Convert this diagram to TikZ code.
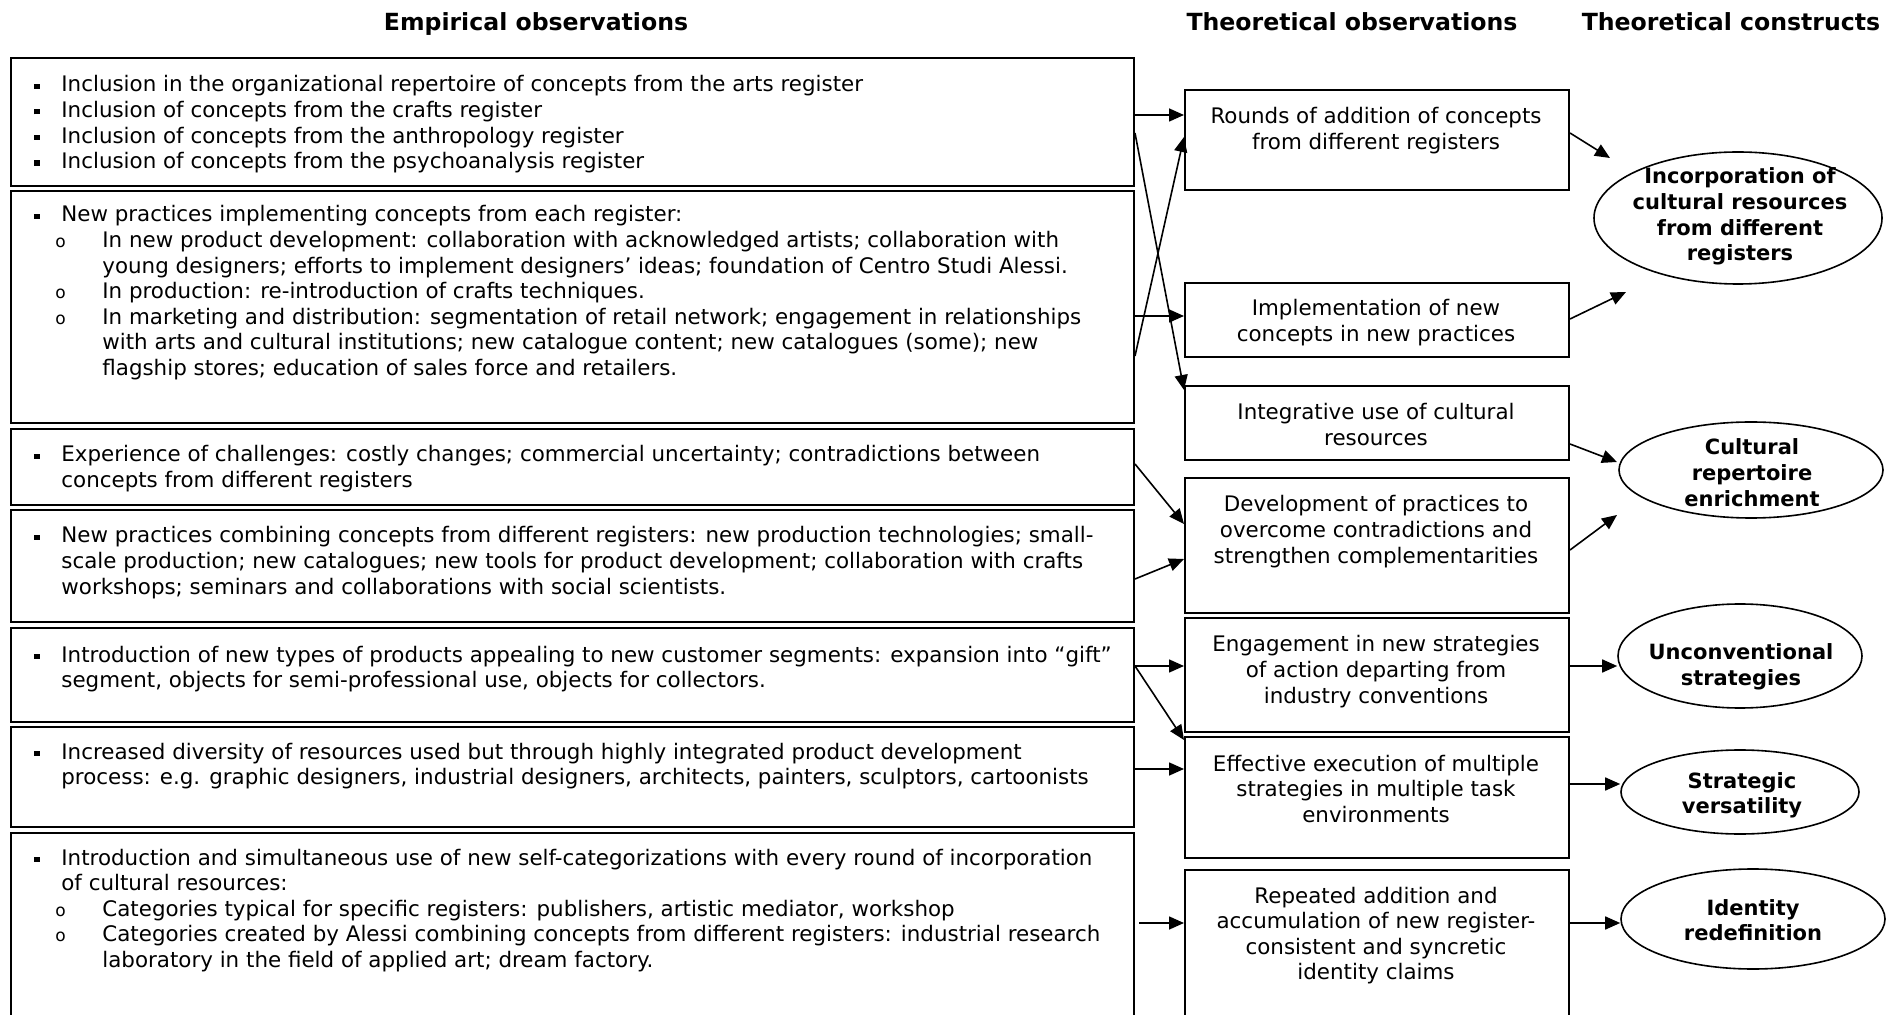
\documentclass[tikz,border=0pt]{standalone}
\usepackage{fontspec}
\setmainfont{DejaVu Sans}
\usetikzlibrary{arrows.meta,shapes.geometric,calc}

% text set-up for the boxes
\newcommand{\txtfont}{\fontsize{10.7pt}{12.8pt}\selectfont}
\newcommand{\boldtxt}{\fontsize{10.5pt}{12.8pt}\selectfont\bfseries}
\newcommand{\sqbul}{\hspace*{1.5pt}\rule[1.6pt]{2.6pt}{2.6pt}}
\newcommand{\ringbul}{{\fontsize{8.5pt}{8.5pt}\selectfont o}}
\newcommand{\itemA}[1]{\par\hangindent=15pt\hangafter=1\noindent\makebox[15pt][l]{\sqbul}#1}
\newcommand{\itemB}[1]{\par\hangindent=35.5pt\hangafter=1\noindent\hspace*{12pt}\makebox[23.5pt][l]{\ringbul}#1}

\tikzset{
  lbox/.style={draw, line width=1pt, rectangle, inner sep=0pt, minimum width=561.5pt, anchor=north west},
  mbox/.style={draw, line width=1pt, rectangle, inner sep=0pt, minimum width=192pt, anchor=north west},
  cons/.style={draw, ellipse, line width=0.8pt, inner sep=0pt},
  arr/.style={-{Triangle[length=7.5pt,width=6.5pt]}, line width=0.8pt},
  ltext/.style={anchor=base west, inner sep=0pt},
  mtext/.style={anchor=base, inner sep=0pt},
  head/.style={anchor=base, inner sep=0pt, font=\fontsize{11.8pt}{14pt}\selectfont\bfseries},
}

\begin{document}
\begin{tikzpicture}[x=0.5pt,y=-0.5pt]
\useasboundingbox (0,0) rectangle (1901,1015);
\clip (0,0) rectangle (1901,1015);
\fill[white] (0,0) rectangle (1901,1015);

% column headings
\node[head] (h1) at (536,31) {Empirical observations};
\node[head] (h2) at (1352,31) {Theoretical observations};
\node[head] (h3) at (1731,31) {Theoretical constructs};

% empirical observation boxes
\node[lbox, minimum height=64pt]  (b1) at (10,57)  {};
\node[lbox, minimum height=116pt] (b2) at (10,190) {};
\node[lbox, minimum height=38pt]  (b3) at (10,428) {};
\node[lbox, minimum height=56pt]  (b4) at (10,509) {};
\node[lbox, minimum height=47pt]  (b5) at (10,627) {};
\node[lbox, minimum height=50pt]  (b6) at (10,726) {};
\node[lbox, minimum height=99pt]  (b7) at (10,832) {};

\node[ltext] (t1) at (31,92) {\parbox[t]{580pt}{\txtfont
\itemA{Inclusion in the organizational repertoire of concepts from the arts register}
\itemA{Inclusion of concepts from the crafts register}
\itemA{Inclusion of concepts from the anthropology register}
\itemA{Inclusion of concepts from the psychoanalysis register}}};

\node[ltext] (t2) at (31,222) {\parbox[t]{580pt}{\txtfont
\itemA{New practices implementing concepts from each register:}
\itemB{In new product development: collaboration with acknowledged artists; collaboration with\\
young designers; efforts to implement designers’ ideas; foundation of Centro Studi Alessi.}
\itemB{In production: re-introduction of crafts techniques.}
\itemB{In marketing and distribution: segmentation of retail network; engagement in relationships\\
with arts and cultural institutions; new catalogue content; new catalogues (some); new\\
flagship stores; education of sales force and retailers.}}};

\node[ltext] (t3) at (31,462) {\parbox[t]{580pt}{\txtfont
\itemA{Experience of challenges: costly changes; commercial uncertainty; contradictions between\\
concepts from different registers}}};

\node[ltext] (t4) at (31,543) {\parbox[t]{580pt}{\txtfont
\itemA{New practices combining concepts from different registers: new production technologies; small-\\
scale production; new catalogues; new tools for product development; collaboration with crafts\\
workshops; seminars and collaborations with social scientists.}}};

\node[ltext] (t5) at (31,662) {\parbox[t]{580pt}{\txtfont
\itemA{Introduction of new types of products appealing to new customer segments: expansion into “gift”\\
segment, objects for semi-professional use, objects for collectors.}}};

\node[ltext] (t6) at (31,759) {\parbox[t]{580pt}{\txtfont
\itemA{Increased diversity of resources used but through highly integrated product development\\
process: e.g. graphic designers, industrial designers, architects, painters, sculptors, cartoonists}}};

\node[ltext] (t7) at (31,865) {\parbox[t]{580pt}{\txtfont
\itemA{Introduction and simultaneous use of new self-categorizations with every round of incorporation\\
of cultural resources:}
\itemB{Categories typical for specific registers: publishers, artistic mediator, workshop}
\itemB{Categories created by Alessi combining concepts from different registers: industrial research\\
laboratory in the field of applied art; dream factory.}}};

% theoretical observation boxes
\node[mbox, minimum height=50pt]   (m1) at (1184,89)  {};
\node[mbox, minimum height=37pt]   (m2) at (1184,282) {};
\node[mbox, minimum height=37pt]   (m3) at (1184,385) {};
\node[mbox, minimum height=67.5pt] (m4) at (1184,477) {};
\node[mbox, minimum height=57pt]   (m5) at (1184,617) {};
\node[mbox, minimum height=60.5pt] (m6) at (1184,736) {};
\node[mbox, minimum height=80pt]   (m7) at (1184,869) {};

\node[mtext] (s1) at (1376,124) {\parbox[t]{190pt}{\centering\txtfont Rounds of addition of concepts\\from different registers}};
\node[mtext] (s2) at (1376,316) {\parbox[t]{190pt}{\centering\txtfont Implementation of new\\concepts in new practices}};
\node[mtext] (s3) at (1376,420) {\parbox[t]{190pt}{\centering\txtfont Integrative use of cultural\\resources}};
\node[mtext] (s4) at (1376,512) {\parbox[t]{190pt}{\centering\txtfont Development of practices to\\overcome contradictions and\\strengthen complementarities}};
\node[mtext] (s5) at (1376,652) {\parbox[t]{190pt}{\centering\txtfont Engagement in new strategies\\of action departing from\\industry conventions}};
\node[mtext] (s6) at (1376,771) {\parbox[t]{190pt}{\centering\txtfont Effective execution of multiple\\strategies in multiple task\\environments}};
\node[mtext] (s7) at (1376,903) {\parbox[t]{190pt}{\centering\txtfont Repeated addition and\\accumulation of new register-\\consistent and syncretic\\identity claims}};

% theoretical constructs
\node[cons, minimum width=144pt, minimum height=66pt] (e1) at (1738,218) {};
\node[cons, minimum width=132pt, minimum height=48pt] (e2) at (1751,470) {};
\node[cons, minimum width=122pt, minimum height=52pt] (e3) at (1740,656) {};
\node[cons, minimum width=119pt, minimum height=42pt] (e4) at (1740,792) {};
\node[cons, minimum width=132pt, minimum height=50pt] (e5) at (1753,919) {};

\node[mtext] (c1) at (1740,184) {\parbox[t]{150pt}{\centering\boldtxt Incorporation of\\cultural resources\\from different\\registers}};
\node[mtext] (c2) at (1752,455) {\parbox[t]{150pt}{\centering\boldtxt Cultural\\repertoire\\enrichment}};
\node[mtext] (c3) at (1741,660) {\parbox[t]{150pt}{\centering\boldtxt Unconventional\\strategies}};
\node[mtext] (c4) at (1742,788) {\parbox[t]{150pt}{\centering\boldtxt Strategic\\versatility}};
\node[mtext] (c5) at (1753,915) {\parbox[t]{150pt}{\centering\boldtxt Identity\\redefinition}};

% connectors: empirical -> theoretical observations
\draw[arr] ($(b1.north east)+(0,58)$)  -- ($(m1.north west)+(0,26)$);
\draw[arr] ($(b1.north east)+(0,76)$)  -- ($(m3.north west)+(0,5)$);
\draw[arr] ($(b2.north east)+(0,166)$) -- ($(m1.north west)+(0,48)$);
\draw[arr] ($(b2.north east)+(0,126)$) -- ($(m2.north west)+(0,34)$);
\draw[arr] ($(b3.north east)+(0,36)$)  -- ($(m4.north west)+(0,47)$);
\draw[arr] ($(b4.north east)+(0,70)$)  -- ($(m4.north west)+(0,82)$);
\draw[arr] ($(b5.north east)+(0,39)$)  -- ($(m5.north west)+(0,49)$);
\draw[arr] ($(b5.north east)+(0,39)$)  -- ($(m6.north west)+(0,4)$);
\draw[arr] ($(b6.north east)+(0,43)$)  -- ($(m6.north west)+(0,33)$);
\draw[arr] ($(b7.north east)+(4,91)$)  -- ($(m7.north west)+(0,54)$);

% connectors: theoretical observations -> constructs
\draw[arr] ($(m1.north east)+(0,44)$) -- ($(e1.center)+(-128,-60)$);
\draw[arr] ($(m2.north east)+(0,37)$) -- ($(e1.center)+(-112,74)$);
\draw[arr] ($(m3.north east)+(0,59)$) -- ($(e2.center)+(-134,-8)$);
\draw[arr] ($(m4.north east)+(0,73)$) -- ($(e2.center)+(-134,45)$);
\coordinate (r5) at ($(m5.north east)+(0,49)$);
\coordinate (r6) at ($(m6.north east)+(0,48)$);
\coordinate (r7) at ($(m7.north east)+(0,54)$);
\draw[arr] (r5) -- (r5 -| e3.west);
\draw[arr] (r6) -- (r6 -| e4.west);
\draw[arr] (r7) -- (r7 -| e5.west);
\end{tikzpicture}
\end{document}
